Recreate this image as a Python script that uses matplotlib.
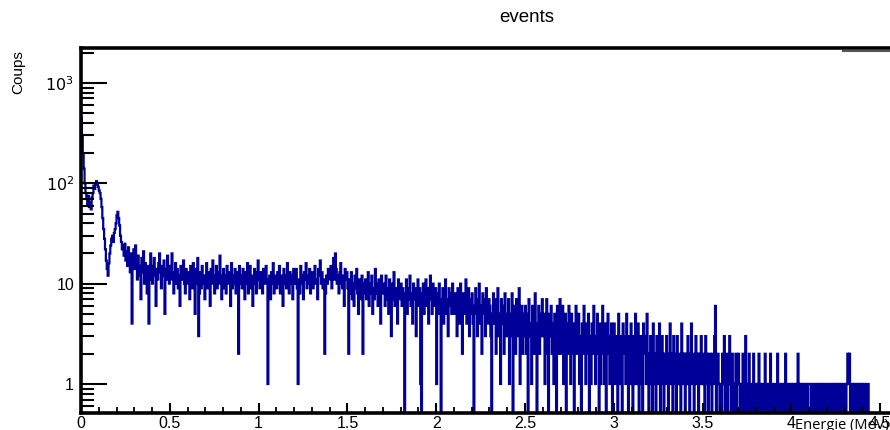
import numpy as np
import matplotlib.pyplot as plt
from matplotlib.ticker import MultipleLocator, LogLocator, FuncFormatter, NullFormatter
from matplotlib.lines import Line2D

plt.rcParams['font.family'] = ['Liberation Sans', 'DejaVu Sans']

# spectre : largeur de canal 5 keV
bin_width = 0.005  # MeV

counts_00_05 = [
    450, 300, 200, 140, 100, 80, 70, 62, 75, 58, 65, 55, 72, 80, 95, 88, 100, 105, 98, 92,
    85, 80, 70, 58, 45, 35, 28, 22, 17, 14, 12, 16, 20, 24, 28, 30, 26, 32, 35, 40,
    48, 52, 45, 38, 30, 26, 22, 24, 19, 25, 17, 21, 15, 23, 18, 13, 20, 4, 16, 22,
    14, 24, 17, 11, 19, 15, 12, 7, 18, 13, 21, 10, 16, 12, 8, 15, 4, 11, 20, 13,
    10, 15, 18, 12, 6, 14, 11, 16, 20, 13, 9, 15, 12, 17, 5, 14, 11, 19, 13, 10,
]
counts_05_10 = [
    15, 11, 20, 13, 8, 12, 16, 10, 14, 9, 12, 6, 15, 11, 13, 17, 10, 8, 14, 12,
    10, 13, 7, 15, 11, 9, 16, 12, 5, 14, 10, 18, 3, 8, 13, 9, 15, 12, 10, 7,
    12, 16, 9, 13, 11, 6, 14, 10, 17, 12, 8, 11, 15, 9, 13, 10, 19, 12, 7, 11,
    14, 9, 12, 8, 15, 11, 10, 13, 6, 16, 9, 12, 10, 14, 8, 11, 13, 2, 15, 10,
    12, 9, 14, 11, 7, 13, 10, 16, 8, 11, 15, 9, 12, 6, 10, 14, 11, 8, 13, 17,
]
counts_10_15 = [
    11, 9, 13, 10, 8, 14, 12, 10, 15, 11, 1, 9, 12, 7, 13, 10, 16, 8, 11, 12,
    9, 13, 10, 15, 8, 12, 11, 6, 14, 10, 12, 9, 16, 11, 8, 13, 10, 12, 7, 14,
    12, 10, 14, 9, 1, 11, 8, 15, 12, 10, 7, 13, 11, 16, 9, 12, 10, 14, 8, 11,
    13, 9, 12, 15, 10, 11, 7, 14, 12, 17, 10, 13, 9, 11, 2, 8, 12, 10, 14, 11,
    12, 15, 9, 13, 18, 11, 20, 14, 10, 12, 8, 13, 16, 10, 9, 12, 6, 14, 11, 13,
]
counts_15_20 = [
    9, 2, 11, 8, 13, 7, 10, 6, 12, 9, 14, 8, 5, 11, 9, 7, 12, 2, 10, 8,
    11, 7, 9, 13, 6, 10, 8, 12, 5, 9, 7, 14, 8, 10, 6, 11, 9, 4, 12, 8,
    8, 10, 6, 12, 7, 9, 5, 11, 8, 3, 10, 7, 13, 6, 9, 8, 4, 11, 7, 9,
    10, 6, 9, 7, 0, 8, 11, 5, 9, 7, 12, 6, 8, 4, 10, 7, 9, 3, 8, 11,
    6, 9, 1, 0, 8, 10, 5, 7, 11, 6, 9, 4, 8, 12, 7, 5, 10, 8, 6, 9,
]
counts_20_25 = [
    1, 8, 5, 10, 6, 0, 7, 9, 4, 8, 11, 5, 7, 3, 9, 6, 8, 5, 10, 7,
    5, 8, 6, 3, 9, 7, 4, 10, 6, 2, 8, 5, 7, 11, 4, 6, 9, 3, 7, 5,
    8, 4, 0, 6, 9, 5, 3, 7, 10, 4, 6, 2, 8, 5, 7, 3, 9, 6, 4, 7,
    6, 3, 0, 5, 8, 4, 7, 2, 6, 9, 3, 5, 1, 7, 4, 6, 2, 8, 5, 3,
    4, 7, 1, 5, 3, 8, 0, 6, 4, 2, 7, 5, 3, 9, 1, 4, 6, 2, 5, 3,
]
counts_25_30 = [
    6, 2, 5, 0, 7, 3, 4, 1, 6, 5, 2, 8, 3, 0, 4, 6, 2, 5, 3, 7,
    3, 5, 1, 4, 7, 2, 0, 5, 3, 6, 2, 4, 1, 5, 3, 0, 6, 2, 4, 7,
    2, 4, 6, 1, 3, 5, 0, 4, 2, 6, 3, 1, 5, 2, 4, 0, 3, 6, 2, 4,
    5, 1, 3, 0, 4, 2, 6, 3, 1, 4, 2, 5, 0, 3, 1, 4, 2, 6, 3, 1,
    3, 5, 2, 0, 4, 1, 3, 6, 2, 1, 4, 0, 3, 5, 2, 1, 3, 4, 0, 2,
]
counts_30_35 = [
    4, 1, 3, 2, 0, 5, 2, 1, 3, 0, 4, 2, 3, 1, 5, 2, 0, 3, 1, 4,
    2, 0, 3, 1, 5, 2, 1, 4, 0, 2, 3, 1, 0, 4, 2, 3, 1, 5, 2, 0,
    1, 3, 2, 0, 4, 1, 2, 0, 3, 1, 2, 4, 0, 1, 3, 2, 0, 2, 1, 3,
    2, 0, 1, 4, 2, 1, 0, 3, 1, 2, 0, 3, 1, 2, 1, 0, 4, 2, 1, 2,
    0, 2, 1, 3, 1, 0, 2, 4, 1, 2, 0, 1, 3, 1, 2, 0, 2, 1, 3, 1,
]
counts_35_40 = [
    2, 1, 0, 3, 1, 2, 0, 1, 2, 1, 0, 2, 1, 3, 6, 0, 1, 2, 1, 0,
    1, 0, 2, 1, 3, 0, 1, 2, 0, 1, 3, 1, 0, 2, 1, 0, 1, 2, 0, 1,
    2, 1, 0, 1, 0, 2, 1, 0, 3, 1, 0, 1, 2, 0, 1, 1, 0, 2, 1, 0,
    1, 0, 1, 2, 0, 1, 0, 1, 1, 0, 2, 1, 0, 1, 0, 1, 2, 0, 1, 1,
    0, 1, 1, 0, 2, 1, 0, 1, 0, 1, 1, 0, 1, 2, 0, 1, 0, 1, 1, 0,
]
counts_40_45 = [
    1, 0, 1, 1, 0, 1, 0, 2, 1, 0, 1, 0, 1, 1, 0, 1, 0, 1, 0, 1,
    1, 1, 0, 1, 0, 1, 1, 0, 1, 0, 1, 0, 1, 1, 0, 1, 0, 1, 0, 1,
    0, 1, 1, 0, 1, 1, 0, 1, 0, 1, 1, 0, 1, 0, 1, 0, 1, 1, 0, 1,
    1, 0, 1, 2, 1, 2, 0, 1, 1, 0, 1, 0, 1, 1, 0, 1, 0, 1, 1, 0,
    1, 0, 1, 1, 0, 1, 1, 0,
]

counts = np.array(counts_00_05 + counts_05_10 + counts_10_15 + counts_15_20
                  + counts_20_25 + counts_25_30 + counts_30_35 + counts_35_40
                  + counts_40_45, dtype=float)
edges = np.arange(len(counts) + 1) * bin_width

fig = plt.figure(figsize=(8.9, 4.3), dpi=100)
ax = fig.add_axes([81 / 890, 17 / 430, 888 / 890, 365 / 430])

ax.set_yscale('log', nonpositive='clip')
ax.stairs(counts, edges, baseline=None, color='#000099', lw=1.6)

ax.set_xlim(0, 5)
ax.set_ylim(0.514, 2230)

ax.xaxis.set_major_locator(MultipleLocator(0.5))
ax.xaxis.set_minor_locator(MultipleLocator(0.1))
ax.xaxis.set_major_formatter(FuncFormatter(lambda v, p: '%g' % v))
ax.yaxis.set_major_locator(LogLocator(base=10))
ax.yaxis.set_minor_locator(LogLocator(base=10, subs=np.arange(2, 10)))
ax.yaxis.set_minor_formatter(NullFormatter())


def ylab(v, p):
    if v < 50:
        return '%g' % v
    return r'$10^{%d}$' % round(np.log10(v))


ax.yaxis.set_major_formatter(FuncFormatter(ylab))

ax.tick_params(which='both', direction='in', top=False, right=False, labelsize=11.5)
ax.tick_params(axis='x', which='major', length=7.5, width=1.5, pad=2)
ax.tick_params(axis='x', which='minor', length=4, width=1.3)
ax.tick_params(axis='y', which='major', length=19, width=1.5, pad=5)
ax.tick_params(axis='y', which='minor', length=9.5, width=1.5)

for s in ['left', 'bottom', 'top']:
    ax.spines[s].set_linewidth(2.6)
ax.spines['right'].set_visible(False)

fig.text(527 / 890, 1 - 18 / 430, 'events', ha='center', va='center', fontsize=13.5)
fig.text(18 / 890, 1 - 50 / 430, 'Coups', rotation=90, ha='center', va='top', fontsize=11)
fig.text(795 / 890, 1 - 429 / 430, 'Energie (MeV)', family=['Open Sans', 'DejaVu Sans'],
         ha='left', va='baseline', fontsize=10.5)

# bord du cadre de stats en haut a droite
fig.add_artist(Line2D([843 / 890, 1.0], [1 - 51 / 430, 1 - 51 / 430],
                      color='#555555', lw=1.5))

fig.savefig('out.png', dpi=100)
